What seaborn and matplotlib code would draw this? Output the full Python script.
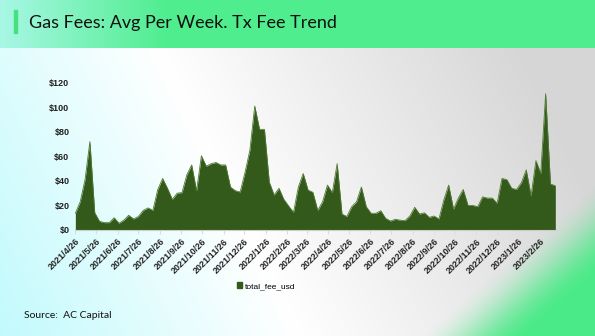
import numpy as np
import pandas as pd
import matplotlib
matplotlib.use("Agg")
import matplotlib.pyplot as plt
import seaborn as sns

# ---- data ----
start_date = "2021-04-26"
fee_values = [
    13.6, 23, 41, 72, 14, 7, 6, 6, 10, 5.5,
    8, 12, 9, 11, 16, 18, 16, 33, 42, 34,
    25, 30, 30.5, 45, 53, 32, 60.5, 52, 54, 55,
    53, 53, 35, 32, 31, 47, 65, 101, 82, 82,
    39, 28.5, 34, 25, 19.5, 14.4, 35, 46, 32.5, 30.7,
    16, 23, 36.6, 30.4, 54, 13, 11, 19, 23, 35,
    19, 13.6, 13.6, 15.7, 9.5, 7.3, 8.7, 8, 7.6, 11.4,
    18.5, 13, 14, 10.3, 11.4, 9, 24.4, 36.6, 17, 26,
    33, 20, 20, 19, 27, 26, 26, 21.7, 42, 41,
    34, 33, 38.5, 49, 27.7, 56.5, 46, 111, 37.5, 36,
]
tick_dates = pd.date_range("2021-04-26", periods=23, freq=pd.DateOffset(months=1))
y_ticks = [0, 20, 40, 60, 80, 100, 120]
series_name = "total_fee_usd"
title_text = "Gas Fees: Avg Per Week. Tx Fee Trend"
source_text = "Source:  AC Capital"

dates = pd.date_range(start_date, periods=len(fee_values), freq="7D")
df = pd.DataFrame({"date": dates, series_name: fee_values})

W, H = 595, 336
fig = plt.figure(figsize=(W / 100, H / 100), dpi=100)

# ---- background ----
bg = fig.add_axes([0, 0, 1, 1], zorder=-10)
px = np.arange(W)[None, :].repeat(H, 0).astype(float)
py = np.arange(H)[:, None].repeat(W, 1).astype(float)
xx = px / W
yy = py / H
cyan = np.array([0.76, 0.98, 0.99])
white = np.array([1.0, 1.0, 1.0])
gray = np.array([0.84, 0.84, 0.84])
d = np.clip(xx * 0.9 + (1 - yy) * 0.25, 0, 1)
t1 = np.clip(d / 0.45, 0, 1)[..., None]
t2 = np.clip((d - 0.45) / 0.55, 0, 1)[..., None]
img = cyan * (1 - t1) + white * t1
img = np.where((d[..., None] > 0.45), white * (1 - t2) + gray * t2, img)
# green diagonal corner bottom-right (soft)
green = np.array([0.29, 0.92, 0.53])
s = (px - 445) / 150 + (py - 205) / 131 - 1
u = np.clip((s + 0.2) / 0.75, 0, 1)
gw = (u * u * (3 - 2 * u))[..., None]
img = img * (1 - gw) + green * gw
# title band
band_h = 48
bx = np.linspace(0, 1, W)
band_left = np.array([0.66, 0.97, 0.90])
band_green = np.array([0.31, 0.93, 0.56])
tb = np.clip(bx / 0.28, 0, 1)[:, None]
band = band_left * (1 - tb) + band_green * tb
img[:band_h, :, :] = band[None, :, :]
bg.imshow(img, aspect="auto", extent=[0, 1, 0, 1], origin="upper")
bg.set_xlim(0, 1)
bg.set_ylim(0, 1)
bg.axis("off")

# accent bar + title
fig.patches.append(plt.Rectangle((14 / W, 1 - 33 / H), 2.5 / W, 23 / H,
                                 transform=fig.transFigure, color="#46e07f"))
fig.text(29 / W, 1 - 23 / H, title_text, fontsize=13, family=["Lato", "DejaVu Sans"],
         va="center", ha="left", color="#111111")
fig.text(24 / W, 1 - 315 / H, source_text, fontsize=7.5, family=["Lato", "DejaVu Sans"],
         va="center", ha="left", color="#111111")

# ---- chart ----
ax = fig.add_axes([75 / W, 1 - 230 / H, (556 - 75) / W, (230 - 82.7) / H])
ax.patch.set_alpha(0)
fill_color = "#335a1b"
sns.lineplot(data=df, x="date", y=series_name, ax=ax, color="#4f7a30", linewidth=0.6)
ax.fill_between(df["date"], df[series_name], 0, color=fill_color, label=series_name, linewidth=0)
ax.set_ylim(0, 120)
ax.set_xlim(dates[0] - pd.Timedelta(days=0.5), dates[-1] + pd.Timedelta(days=1))
ax.set_yticks(y_ticks)
ax.set_yticklabels([f"${v}" for v in y_ticks])
ax.set_xticks(tick_dates)
ax.set_xticklabels([f"{d.year}/{d.month}/{d.day}" for d in tick_dates], rotation=45,
                   ha="right", rotation_mode="anchor")
tick_font = ["Liberation Sans Narrow", "Liberation Sans", "DejaVu Sans"]
for lab in ax.get_xticklabels() + ax.get_yticklabels():
    lab.set_family(tick_font)
    lab.set_fontweight("bold")
    lab.set_fontsize(6.5)
    lab.set_color("#222222")
ax.set_xlabel("")
ax.set_ylabel("")
for sp in ["top", "right", "left"]:
    ax.spines[sp].set_visible(False)
ax.spines["bottom"].set_color("#cccccc")
ax.spines["bottom"].set_linewidth(0.8)
ax.tick_params(axis="y", length=0, pad=4)
ax.tick_params(axis="x", length=3, color="#dddddd", pad=2)
ax.grid(False)

handles = [plt.Rectangle((0, 0), 1, 1, color=fill_color)]
leg = fig.legend(handles, [series_name], loc="center", bbox_to_anchor=(266 / W, 1 - 286 / H),
                 frameon=False, handlelength=0.6, handleheight=0.6, handletextpad=0.4,
                 prop={"family": tick_font, "size": 6})

fig.savefig("out.png", dpi=100)
